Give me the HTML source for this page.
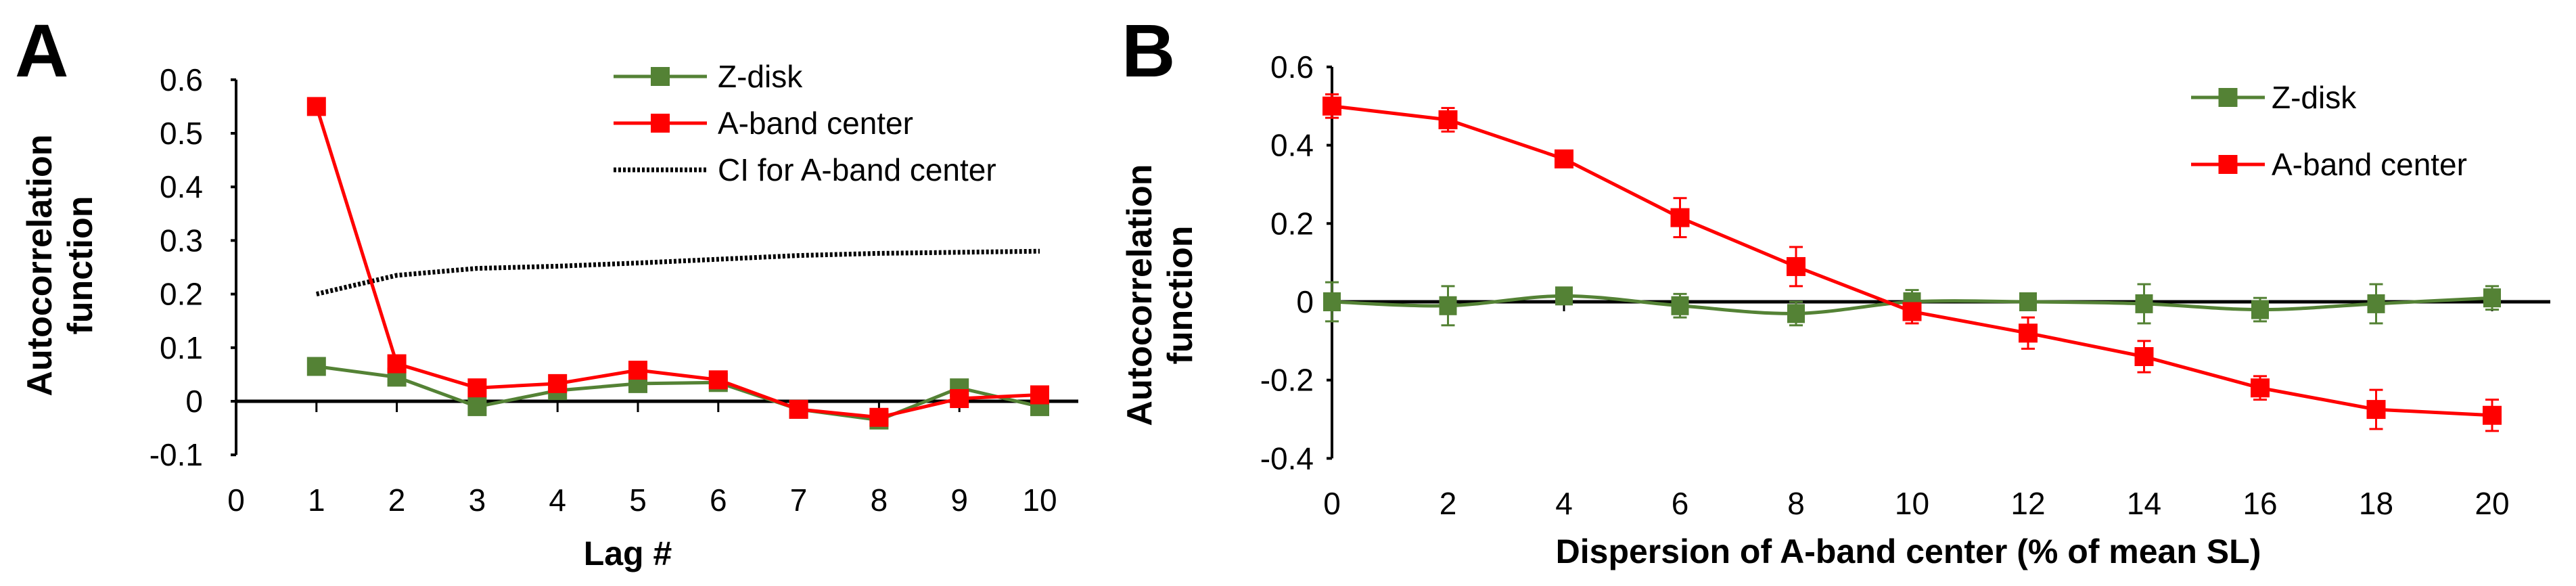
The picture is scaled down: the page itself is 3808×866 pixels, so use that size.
<!DOCTYPE html>
<html><head><meta charset="utf-8"><style>
html,body{margin:0;padding:0;background:#fff;}
svg{display:block;font-family:"Liberation Sans",Arial,sans-serif;}
</style></head><body>
<svg id="chart" width="3808" height="866" viewBox="0 0 3808 866" xmlns="http://www.w3.org/2000/svg">
</svg>
<script>
// Panel A data
const lagsA = [1,2,3,4,5,6,7,8,9,10];
const zdiskA = [0.065,0.045,-0.01,0.02,0.033,0.035,-0.015,-0.035,0.025,-0.01];
const abandA = [0.55,0.07,0.025,0.033,0.058,0.04,-0.015,-0.03,0.005,0.012];
const ciA = [0.2,0.235,0.248,0.252,0.258,0.265,0.272,0.276,0.278,0.28];
const yTicksA = [0.6,0.5,0.4,0.3,0.2,0.1,0,-0.1];
const yTickLabelsA = ["0.6","0.5","0.4","0.3","0.2","0.1","0","-0.1"];
const xTicksA = [0,1,2,3,4,5,6,7,8,9,10];
// Panel B data
const dispB = [0,2,4,6,8,10,12,14,16,18,20];
const abandB = [0.50,0.465,0.365,0.215,0.09,-0.025,-0.08,-0.14,-0.22,-0.275,-0.29];
const abandErrB = [0.03,0.03,0.02,0.05,0.05,0.03,0.04,0.04,0.03,0.05,0.04];
const zdiskB = [0,-0.01,0.015,-0.01,-0.03,0,0,-0.005,-0.02,-0.005,0.01];
const zdiskErrB = [0.05,0.05,0.02,0.03,0.03,0.03,0.02,0.05,0.03,0.05,0.03];
const yTicksB = [0.6,0.4,0.2,0,-0.2,-0.4];
const yTickLabelsB = ["0.6","0.4","0.2","0","-0.2","-0.4"];

const GREEN="#548235", RED="#ff0000";
const svg=document.getElementById('chart');
const NS="http://www.w3.org/2000/svg";
function mk(tag,attrs,parent){const e=document.createElementNS(NS,tag);for(const k in attrs)e.setAttribute(k,attrs[k]);(parent||svg).appendChild(e);return e;}
function txt(s,attrs,parent){const e=mk('text',attrs,parent);e.textContent=s;return e;}

// Panel A scales
const xA=v=>349+v*118.8;
const yA=v=>593-v*792;
const gA=mk('g',{});


let t=txt('A',{x:22,y:113,'font-size':110,'font-weight':'bold'},gA);

let ax=mk('line',{x1:349,y1:yA(0.6),x2:349,y2:yA(-0.1),stroke:'#000','stroke-width':4},gA);

yTicksA.forEach((v,i)=>{
  mk('line',{x1:341,y1:yA(v),x2:349,y2:yA(v),stroke:'#000','stroke-width':4},gA);
  const l=txt(yTickLabelsA[i],{x:300,y:yA(v)+16,'font-size':46,'text-anchor':'end'},gA);
  
});
let zl=mk('line',{x1:349,y1:yA(0),x2:1594,y2:yA(0),stroke:'#000','stroke-width':5},gA);

xTicksA.forEach(v=>{
  if(v>0)mk('line',{x1:xA(v),y1:yA(0),x2:xA(v),y2:yA(0)+16,stroke:'#000','stroke-width':3},gA);
  const l=txt(String(v),{x:xA(v),y:755,'font-size':46,'text-anchor':'middle'},gA);
  
});
t=txt('Lag #',{x:xA(5)-15,y:835,'font-size':50,'font-weight':'bold','text-anchor':'middle'},gA);

t=mk('text',{transform:'translate(76,392) rotate(-90)','font-size':52,'font-weight':'bold','text-anchor':'middle'},gA);

t.innerHTML='<tspan x="0" y="0">Autocorrelation</tspan><tspan x="0" y="60">function</tspan>';
let ci=mk('polyline',{points:lagsA.map((v,i)=>xA(v)+','+yA(ciA[i])).join(' '),fill:'none',stroke:'#000','stroke-width':7,'stroke-dasharray':'4,3'},gA);

function series(g,xs,ys,xf,yf,color,name){
  const p=mk('polyline',{points:xs.map((v,i)=>xf(v)+','+yf(ys[i])).join(' '),fill:'none',stroke:color,'stroke-width':5},g);
  
  xs.forEach((v,i)=>{
    const r=mk('rect',{x:xf(v)-14,y:yf(ys[i])-14,width:28,height:28,fill:color},g);
    
  });
}
series(gA,lagsA,zdiskA,xA,yA,GREEN,'z-disk-a');
series(gA,lagsA,abandA,xA,yA,RED,'a-band-a');
function legendEntry(g,x1,x2,y,color,label,tx,name,dotted){
  const e=mk('g',{},g);
  
  if(dotted){mk('line',{x1:x1,y1:y,x2:x2,y2:y,stroke:'#000','stroke-width':7,'stroke-dasharray':'4,3'},e);}
  else{mk('line',{x1:x1,y1:y,x2:x2,y2:y,stroke:color,'stroke-width':5},e);
    mk('rect',{x:(x1+x2)/2-14,y:y-14,width:28,height:28,fill:color},e);}
  txt(label,{x:tx,y:y+16,'font-size':46},e);
}
legendEntry(gA,907,1045,113,GREEN,'Z-disk',1061,'legend-entry-z-disk-a');
legendEntry(gA,907,1045,182,RED,'A-band center',1061,'legend-entry-a-band-a');
legendEntry(gA,907,1045,251,'#000','CI for A-band center',1061,'legend-entry-ci',true);

// Panel B
const xB=v=>1969+v*85.75;
const yB=v=>446-v*578.5;
const gB=mk('g',{});


t=txt('B',{x:1658,y:113,'font-size':110,'font-weight':'bold'},gB);

ax=mk('line',{x1:1969,y1:yB(0.6),x2:1969,y2:yB(-0.4),stroke:'#000','stroke-width':4},gB);

yTicksB.forEach((v,i)=>{
  mk('line',{x1:1961,y1:yB(v),x2:1969,y2:yB(v),stroke:'#000','stroke-width':4},gB);
  const l=txt(yTickLabelsB[i],{x:1942,y:yB(v)+16,'font-size':46,'text-anchor':'end'},gB);
  
});
zl=mk('line',{x1:1969,y1:yB(0),x2:3770,y2:yB(0),stroke:'#000','stroke-width':5},gB);

dispB.forEach(v=>{
  if(v>0)mk('line',{x1:xB(v),y1:yB(0),x2:xB(v),y2:yB(0)+14,stroke:'#000','stroke-width':3},gB);
  const l=txt(String(v),{x:xB(v),y:760,'font-size':46,'text-anchor':'middle'},gB);
  
});
t=txt('Dispersion of A-band center (% of mean SL)',{x:2821,y:832,'font-size':50,'font-weight':'bold','text-anchor':'middle'},gB);

t=mk('text',{transform:'translate(1702,436) rotate(-90)','font-size':52,'font-weight':'bold','text-anchor':'middle'},gB);

t.innerHTML='<tspan x="0" y="0">Autocorrelation</tspan><tspan x="0" y="60">function</tspan>';
function errBars(g,xs,ys,es,color,name){
  xs.forEach((v,i)=>{
    const e=mk('g',{},g);
    
    const x=xB(v),y1=yB(ys[i]+es[i]),y2=yB(ys[i]-es[i]);
    mk('line',{x1:x,y1:y1,x2:x,y2:y2,stroke:color,'stroke-width':3},e);
    mk('line',{x1:x-10,y1:y1,x2:x+10,y2:y1,stroke:color,'stroke-width':3},e);
    mk('line',{x1:x-10,y1:y2,x2:x+10,y2:y2,stroke:color,'stroke-width':3},e);
  });
}
errBars(gB,dispB,zdiskB,zdiskErrB,GREEN,'z-disk-error-bar');
errBars(gB,dispB,abandB,abandErrB,RED,'a-band-error-bar');
(function(){
  const pts=dispB.map((v,i)=>[xB(v),yB(zdiskB[i])]);
  let d='M'+pts[0][0]+','+pts[0][1];
  for(let i=0;i<pts.length-1;i++){
    const p0=pts[Math.max(0,i-1)],p1=pts[i],p2=pts[i+1],p3=pts[Math.min(pts.length-1,i+2)];
    const c1=[p1[0]+(p2[0]-p0[0])/6,p1[1]+(p2[1]-p0[1])/6];
    const c2=[p2[0]-(p3[0]-p1[0])/6,p2[1]-(p3[1]-p1[1])/6];
    d+=` C${c1[0]},${c1[1]} ${c2[0]},${c2[1]} ${p2[0]},${p2[1]}`;
  }
  const p=mk('path',{d:d,fill:'none',stroke:GREEN,'stroke-width':5},gB);
  
  dispB.forEach((v,i)=>{
    const r=mk('rect',{x:xB(v)-13,y:yB(zdiskB[i])-14,width:26,height:28,fill:GREEN},gB);
    
  });
})();
series(gB,dispB,abandB,xB,yB,RED,'a-band-b');
legendEntry(gB,3239,3348,144,GREEN,'Z-disk',3358,'legend-entry-z-disk-b');
legendEntry(gB,3239,3348,243,RED,'A-band center',3358,'legend-entry-a-band-b');
</script>
</body></html>
